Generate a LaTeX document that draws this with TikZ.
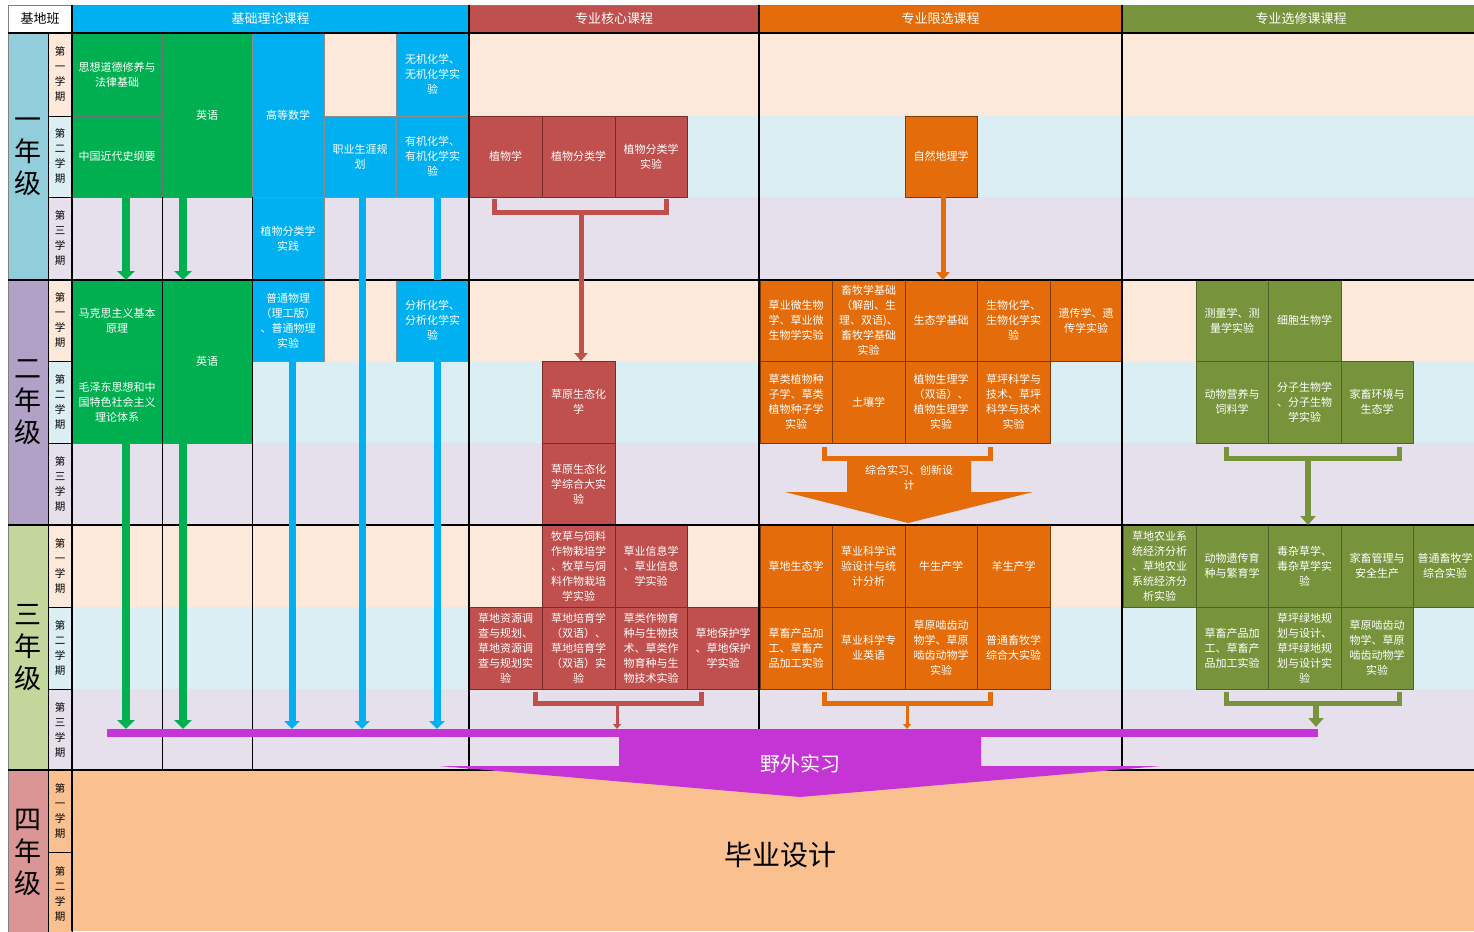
\documentclass[tikz,border=0pt]{standalone}
\usepackage{fontspec}
\newfontfamily\cjk{Noto Sans CJK SC}
\usetikzlibrary{arrows.meta}
\definecolor{cy}{HTML}{00B0F0}
\definecolor{gr}{HTML}{00B050}
\definecolor{rd}{HTML}{C0504D}
\definecolor{rdd}{HTML}{7B2C2A}
\definecolor{og}{HTML}{E46C0A}
\definecolor{ogd}{HTML}{7F3A05}
\definecolor{ol}{HTML}{77933C}
\definecolor{old}{HTML}{4F6228}
\definecolor{sa}{HTML}{FDE9D9}
\definecolor{sb}{HTML}{DAEEF3}
\definecolor{sc}{HTML}{E5E0EC}
\definecolor{yfour}{HTML}{FAC090}
\definecolor{ya}{HTML}{92CDDC}
\definecolor{yb}{HTML}{B2A1C7}
\definecolor{yc}{HTML}{C3D69B}
\definecolor{yd}{HTML}{D99694}
\definecolor{mg}{HTML}{C535D5}
\newcommand\cbox[7]{\node[#6,minimum width={(#4-#2)*1pt},minimum height={(#5-#3)*1pt}] (#1) at ({(#2+#4)/2},{(#3+#5)/2}) {#7};}
\tikzset{
 cell/.style={inner sep=0pt,outer sep=0pt,align=center,text=white,font=\cjk\fontsize{11}{15}\selectfont,line width=0.6pt},
 cyb/.style={cell,fill=cy,draw=black!45},
 grb/.style={cell,fill=gr,draw=black!55},
 rdb/.style={cell,fill=rd,draw=rdd},
 ogb/.style={cell,fill=og,draw=ogd},
 olb/.style={cell,fill=ol,draw=old},
 hdr/.style={cell,draw=black!50,font=\cjk\fontsize{13}{15}\selectfont},
 yrl/.style={cell,text=black,draw=black!50,font=\cjk\fontsize{27}{32}\selectfont},
 sml/.style={cell,text=black,draw=black,font=\cjk\fontsize{10.5}{15}\selectfont},
 thick line/.style={line width=2pt,black},
 mid line/.style={line width=1.3pt,black},
 thin line/.style={line width=1pt,black},
 garrow/.style={draw=gr,line width=8pt,-{Triangle[width=17pt,length=9pt]}},
 carrow/.style={draw=cy,line width=7pt,-{Triangle[width=15pt,length=8pt]}},
 cyline/.style={draw=cy,line width=7pt},
 rbr/.style={draw=rd,line width=5pt},
 obr/.style={draw=og,line width=5pt},
 gbr/.style={draw=ol,line width=5pt},
 rstem/.style={draw=rd,line width=5pt,-{Triangle[width=13pt,length=8pt]}},
 ostem/.style={draw=og,line width=5pt,-{Triangle[width=13pt,length=8pt]}},
 gstem/.style={draw=ol,line width=6pt,-{Triangle[width=15pt,length=9pt]}},
 rsmall/.style={draw=rd,line width=3pt,-{Triangle[width=8pt,length=5pt]}},
 osmall/.style={draw=og,line width=3pt,-{Triangle[width=8pt,length=5pt]}},
}
\begin{document}
\begin{tikzpicture}[x=1pt,y=-1pt]
\useasboundingbox (0,0) rectangle (1474,931);
\fill[white] (0,0) rectangle (1474,931);
% bands
\fill[sa] (72,33) rectangle (1474,116);
\fill[sb] (72,116) rectangle (1474,197);
\fill[sc] (72,197) rectangle (1474,280);
\fill[sa] (72,280) rectangle (1474,361);
\fill[sb] (72,361) rectangle (1474,443);
\fill[sc] (72,443) rectangle (1474,525);
\fill[sa] (72,525) rectangle (1474,607);
\fill[sb] (72,607) rectangle (1474,689);
\fill[sc] (72,689) rectangle (1474,770);
\fill[yfour] (72,770) rectangle (1474,931);
% header
\cbox{h0}{8}{5}{72}{33}{hdr,fill=white,text=black}{基地班}
\cbox{h1}{72}{5}{469}{33}{hdr,fill=cy}{基础理论课程}
\cbox{h2}{469}{5}{759}{33}{hdr,fill=rd}{专业核心课程}
\cbox{h3}{759}{5}{1122}{33}{hdr,fill=og}{专业限选课程}
\cbox{h4}{1122}{5}{1480}{33}{hdr,fill=ol}{专业选修课课程}
% year labels
\cbox{ya}{8}{33}{48}{280}{yrl,fill=ya}{一\\年\\级}
\cbox{yb}{8}{280}{48}{525}{yrl,fill=yb}{二\\年\\级}
\cbox{yc}{8}{525}{48}{770}{yrl,fill=yc}{三\\年\\级}
\cbox{yd}{8}{770}{48}{935}{yrl,fill=yd}{四\\年\\级}
% semester labels
\cbox{s11}{48}{33}{72}{116}{sml,fill=sa}{第\\一\\学\\期}
\cbox{s12}{48}{116}{72}{197}{sml,fill=sb}{第\\二\\学\\期}
\cbox{s13}{48}{197}{72}{280}{sml,fill=sc}{第\\三\\学\\期}
\cbox{s21}{48}{280}{72}{361}{sml,fill=sa}{第\\一\\学\\期}
\cbox{s22}{48}{361}{72}{443}{sml,fill=sb}{第\\二\\学\\期}
\cbox{s23}{48}{443}{72}{525}{sml,fill=sc}{第\\三\\学\\期}
\cbox{s31}{48}{525}{72}{607}{sml,fill=sa}{第\\一\\学\\期}
\cbox{s32}{48}{607}{72}{689}{sml,fill=sb}{第\\二\\学\\期}
\cbox{s33}{48}{689}{72}{770}{sml,fill=sc}{第\\三\\学\\期}
\cbox{s41}{48}{770}{72}{852}{sml,fill=yfour}{第\\一\\学\\期}
\cbox{s42}{48}{852}{72}{935}{sml,fill=yfour}{第\\二\\学\\期}
% basic theory, year 1
\cbox{sx}{72}{33}{162}{116}{grb}{思想道德修养与\\法律基础}
\cbox{zg}{72}{116}{162}{197}{grb}{中国近代史纲要}
\cbox{yy1}{162}{33}{252}{197}{grb}{英语}
\cbox{gs}{252}{33}{324}{197}{cyb}{高等数学}
\cbox{zwsj}{252}{197}{324}{280}{cyb}{植物分类学\\实践}
\cbox{zy}{324}{116}{396}{197}{cyb}{职业生涯规\\划}
\cbox{wj}{396}{33}{469}{116}{cyb}{无机化学、\\无机化学实\\验}
\cbox{yj}{396}{116}{469}{197}{cyb}{有机化学、\\有机化学实\\验}
% basic theory, year 2
\cbox{mk}{72}{280}{162}{361}{grb}{马克思主义基本\\原理}
\cbox{mz}{72}{361}{162}{443}{grb}{毛泽东思想和中\\国特色社会主义\\理论体系}
\cbox{yy2}{162}{280}{252}{443}{grb}{英语}
\cbox{pt}{252}{280}{324}{361}{cyb}{普通物理\\（理工版）\\、普通物理\\实验}
\cbox{fx}{396}{280}{469}{361}{cyb}{分析化学、\\分析化学实\\验}
% core (red)
\cbox{zw}{469}{116}{542}{197}{rdb}{植物学}
\cbox{zwfl}{542}{116}{615}{197}{rdb}{植物分类学}
\cbox{zwsy}{615}{116}{687}{197}{rdb}{植物分类学\\实验}
\cbox{cst}{542}{361}{615}{443}{rdb}{草原生态化\\学}
\cbox{cstd}{542}{443}{615}{525}{rdb}{草原生态化\\学综合大实\\验}
\cbox{mc}{542}{525}{615}{607}{rdb}{牧草与饲料\\作物栽培学\\、牧草与饲\\料作物栽培\\学实验}
\cbox{cyxx}{615}{525}{687}{607}{rdb}{草业信息学\\、草业信息\\学实验}
\cbox{cdzy}{469}{607}{542}{689}{rdb}{草地资源调\\查与规划、\\草地资源调\\查与规划实\\验}
\cbox{cdpy}{542}{607}{615}{689}{rdb}{草地培育学\\（双语）、\\草地培育学\\（双语）实\\验}
\cbox{clzw}{615}{607}{687}{689}{rdb}{草类作物育\\种与生物技\\术、草类作\\物育种与生\\物技术实验}
\cbox{cdbh}{687}{607}{759}{689}{rdb}{草地保护学\\、草地保护\\学实验}
% restricted (orange)
\cbox{zrdl}{905}{116}{977}{197}{ogb}{自然地理学}
\cbox{cywsw}{760}{280}{832}{361}{ogb}{草业微生物\\学、草业微\\生物学实验}
\cbox{xmjc}{832}{280}{905}{361}{ogb}{畜牧学基础\\（解剖、生\\理、双语)、\\畜牧学基础\\实验}
\cbox{stxjc}{905}{280}{977}{361}{ogb}{生态学基础}
\cbox{swhx}{977}{280}{1050}{361}{ogb}{生物化学、\\生物化学实\\验}
\cbox{ycx}{1050}{280}{1122}{361}{ogb}{遗传学、遗\\传学实验}
\cbox{clzz}{760}{361}{832}{443}{ogb}{草类植物种\\子学、草类\\植物种子学\\实验}
\cbox{trx}{832}{361}{905}{443}{ogb}{土壤学}
\cbox{zwsl}{905}{361}{977}{443}{ogb}{植物生理学\\（双语）、\\植物生理学\\实验}
\cbox{cpkx}{977}{361}{1050}{443}{ogb}{草坪科学与\\技术、草坪\\科学与技术\\实验}
\cbox{cdst}{760}{525}{832}{607}{ogb}{草地生态学}
\cbox{cysj}{832}{525}{905}{607}{ogb}{草业科学试\\验设计与统\\计分析}
\cbox{nsc}{905}{525}{977}{607}{ogb}{牛生产学}
\cbox{ysc}{977}{525}{1050}{607}{ogb}{羊生产学}
\cbox{cxcp}{760}{607}{832}{689}{ogb}{草畜产品加\\工、草畜产\\品加工实验}
\cbox{cyyy}{832}{607}{905}{689}{ogb}{草业科学专\\业英语}
\cbox{cynd}{905}{607}{977}{689}{ogb}{草原啮齿动\\物学、草原\\啮齿动物学\\实验}
\cbox{ptxm}{977}{607}{1050}{689}{ogb}{普通畜牧学\\综合大实验}
% elective (olive)
\cbox{clx}{1196}{280}{1268}{361}{olb}{测量学、测\\量学实验}
\cbox{xbsw}{1268}{280}{1341}{361}{olb}{细胞生物学}
\cbox{dwyy}{1196}{361}{1268}{443}{olb}{动物营养与\\饲料学}
\cbox{fzsw}{1268}{361}{1341}{443}{olb}{分子生物学\\、分子生物\\学实验}
\cbox{jchj}{1341}{361}{1413}{443}{olb}{家畜环境与\\生态学}
\cbox{cdny}{1123}{525}{1196}{607}{olb}{草地农业系\\统经济分析\\、草地农业\\系统经济分\\析实验}
\cbox{dwyc}{1196}{525}{1268}{607}{olb}{动物遗传育\\种与繁育学}
\cbox{dzc}{1268}{525}{1341}{607}{olb}{毒杂草学、\\毒杂草学实\\验}
\cbox{jcgl}{1341}{525}{1413}{607}{olb}{家畜管理与\\安全生产}
\cbox{ptxm2}{1413}{525}{1477}{607}{olb}{普通畜牧学\\综合实验}
\cbox{cxcp2}{1196}{607}{1268}{689}{olb}{草畜产品加\\工、草畜产\\品加工实验}
\cbox{cpld}{1268}{607}{1341}{689}{olb}{草坪绿地规\\划与设计、\\草坪绿地规\\划与设计实\\验}
\cbox{cynd2}{1341}{607}{1413}{689}{olb}{草原啮齿动\\物学、草原\\啮齿动物学\\实验}
% grid lines
\draw[thin line] (162,197) -- (162,770);
\draw[thin line] (252,197) -- (252,770);
\draw[mid line] (469,5) -- (469,770);
\draw[mid line] (759,5) -- (759,770);
\draw[mid line] (1122,5) -- (1122,770);
\draw[thick line] (8,33) -- (1474,33);
\draw[thick line] (8,280) -- (1474,280);
\draw[thick line] (8,525) -- (1474,525);
\draw[thick line] (8,770) -- (1474,770);
\draw[mid line] (72,5) -- (72,931);
% targets on the field-practice bar
\coordinate (t1) at (126,729);
\coordinate (t2) at (183,729);
\coordinate (t3) at (292,729);
\coordinate (t4) at (362,729);
\coordinate (t5) at (437,729);
\coordinate (t6) at (617,729);
\coordinate (t7) at (907,729);
\coordinate (t8) at (1316,729);
% green arrows
\draw[garrow] ([xshift=9pt]zg.south) -- ([xshift=9pt]mk.north);
\draw[garrow] ([xshift=-24pt]yy1.south) -- ([xshift=-24pt]yy2.north);
\draw[garrow] ([xshift=9pt]mz.south) -- (t1);
\draw[garrow] ([xshift=-24pt]yy2.south) -- (t2);
% cyan arrows
\draw[carrow] ([xshift=4pt]pt.south) -- (t3);
\draw[carrow] ([xshift=2pt]zy.south) -- (t4);
\draw[cyline] ([xshift=4.5pt]yj.south) -- ([xshift=4.5pt]fx.north);
\draw[carrow] ([xshift=4.5pt]fx.south) -- (t5);
% red year 1 bracket
\coordinate (rb1) at (494,199);
\coordinate (rb2) at (666,199);
\coordinate (rbm) at (581,212);
\draw[rbr] (rb1) -- ++(0,13) -| (rb2);
\draw[rstem] (rbm) -- (rbm |- cst.north);
% orange year 1
\draw[ostem] ([xshift=2pt]zrdl.south) -- ([xshift=2pt]stxjc.north);
% orange year 2 bracket and block arrow
\coordinate (ob1) at (824,447);
\coordinate (ob2) at (990,447);
\draw[obr] (ob1) -- ++(0,11) -| (ob2);
\fill[og] (847,460) -- (971,460) -- (971,492) -- (1033,492) -- (908,523) -- (785,492) -- (847,492) -- cycle;
\node[cell] (zhsx) at (909,478) {综合实习、创新设\\计};
% olive year 2 bracket
\coordinate (gb1) at (1226,447);
\coordinate (gb2) at (1399,447);
\coordinate (gbm) at (1308,458);
\draw[gbr] (gb1) -- ++(0,11) -| (gb2);
\draw[gstem] (gbm) -- (gbm |- dzc.north);
% year 3 brackets
\coordinate (rc1) at (535,692);
\coordinate (rc2) at (701,692);
\coordinate (rcm) at (617,703);
\draw[rbr] (rc1) -- ++(0,11) -| (rc2);
\draw[rsmall] (rcm) -- (t6);
\coordinate (oc1) at (824,692);
\coordinate (oc2) at (990,692);
\coordinate (ocm) at (907,703);
\draw[obr] (oc1) -- ++(0,11) -| (oc2);
\draw[osmall] (ocm) -- (t7);
\coordinate (gc1) at (1226,692);
\coordinate (gc2) at (1399,692);
\coordinate (gcm) at (1316,703);
\draw[gbr] (gc1) -- ++(0,11) -| (gc2);
\draw[gstem] (gcm) -- ([yshift=2pt]t8);
% field practice bar and big arrow
\node[fill=mg,inner sep=0pt,outer sep=0pt,minimum width=1211pt,minimum height=8pt] (bar) at (712.5,733) {};
\fill[mg] (619,736) -- (619,766) -- (439,766) -- (800,797) -- (1161,766) -- (981,766) -- (981,736) -- cycle;
\node[cell,font=\cjk\fontsize{20}{22}\selectfont] (yw) at (800,764) {野外实习};
% graduation design
\node[cell,text=black,font=\cjk\fontsize{28}{30}\selectfont] (bysj) at (780,855) {毕业设计};
\end{tikzpicture}
\end{document}
